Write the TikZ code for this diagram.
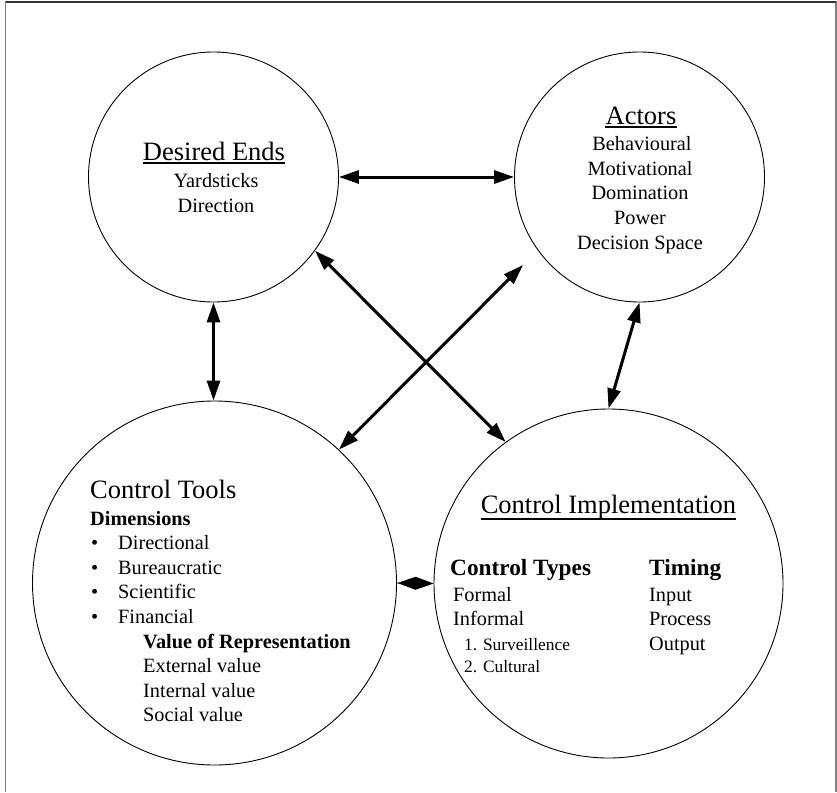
\documentclass[tikz,border=0pt]{standalone}
\usepackage{fontspec}
\setmainfont{Liberation Serif}
\usetikzlibrary{arrows.meta}
\begin{document}
\begin{tikzpicture}[x=1pt,y=-1pt,
  circ/.style={circle, draw, line width=0.9pt, minimum size=#1, inner sep=0pt},
  ttl/.style={anchor=base, inner sep=0pt, font=\fontsize{26.5}{30}\selectfont},
  ttll/.style={ttl, anchor=base west},
  bodyc/.style={anchor=base, inner sep=0pt, font=\fontsize{20.3}{24}\selectfont},
  bodyl/.style={bodyc, anchor=base west},
  bhead/.style={anchor=base west, inner sep=0pt, font=\bfseries\fontsize{20.3}{24}\selectfont},
  bigbold/.style={anchor=base west, inner sep=0pt, font=\bfseries\fontsize{23.3}{27}\selectfont},
  small/.style={anchor=base west, inner sep=0pt, font=\fontsize{17.4}{20}\selectfont},
  uline/.style={line width=1.6pt},
  arr/.style={line width=3pt, {Triangle[length=20pt,width=13pt]}-{Triangle[length=20pt,width=13pt]}},
  diam/.style={line width=0.8pt, -{Diamond[length=36pt,width=13pt]}},
  frame/.style={line width=1.6pt, black!50}
]
\useasboundingbox (0,0) rectangle (837,792);
% frame
\draw[frame] (5.5,792) -- (5.5,2) -- (836,2) -- (836,792);
\draw[line width=1.2pt, black!80] (5.5,2) -- (836,2);

% circles
\node[circ=250pt] (de) at (213.5,177) {};
\node[circ=250pt] (ac) at (639.5,177) {};
\node[circ=364pt] (ct) at (214.5,583) {};
\node[circ=349pt] (ci) at (608.5,583.5) {};

% Desired Ends text
\node[ttl] (deT) at (214,160) {Desired Ends};
\draw[uline] ([yshift=-3pt]deT.base west) -- ([yshift=-3pt]deT.base east);
\node[bodyc] (de1) at (216,187) {Yardsticks};
\node[bodyc] (de2) at (216,212) {Direction};

% Actors text
\node[ttl] (acT) at (641,124) {Actors};
\draw[uline] ([yshift=-3pt]acT.base west) -- ([yshift=-3pt]acT.base east);
\node[bodyc] (ac1) at (642,150) {Behavioural};
\node[bodyc] (ac2) at (640,175) {Motivational};
\node[bodyc] (ac3) at (640,199) {Domination};
\node[bodyc] (ac4) at (640,224) {Power};
\node[bodyc] (ac5) at (640,249) {Decision Space};

% Control Tools text
\node[ttll] (ctT) at (90,498) {Control Tools};
\node[bhead] (ctD) at (90,525) {Dimensions};
\node[bodyl] (b1) at (91,549) {•};
\node[bodyl] (b2) at (91,574) {•};
\node[bodyl] (b3) at (91,598) {•};
\node[bodyl] (b4) at (91,623) {•};
\node[bodyl] (ct1) at (118,549) {Directional};
\node[bodyl] (ct2) at (118,574) {Bureaucratic};
\node[bodyl] (ct3) at (118,598) {Scientific};
\node[bodyl] (ct4) at (118,623) {Financial};
\node[bhead] (ctV) at (143,648) {Value of Representation};
\node[bodyl] (ct5) at (143,672) {External value};
\node[bodyl] (ct6) at (143,697) {Internal value};
\node[bodyl] (ct7) at (143,721) {Social value};

% Control Implementation text
\node[ttl] (ciT) at (608.5,513) {Control Implementation};
\draw[uline] ([yshift=-6pt]ciT.base west) -- ([yshift=-6pt]ciT.base east);
\node[bigbold] (ciA) at (450,575) {Control Types};
\node[bigbold] (ciB) at (649,575) {Timing};
\node[bodyl] (ci1) at (453,601) {Formal};
\node[bodyl] (ci2) at (453,625) {Informal};
\node[small] (ci3) at (464,650) {1. Surveillence};
\node[small] (ci4) at (464,672) {2. Cultural};
\node[bodyl] (ci5) at (649,601) {Input};
\node[bodyl] (ci6) at (649,625) {Process};
\node[bodyl] (ci7) at (649,650) {Output};

% connectors
\coordinate (acx) at (523,265);
\draw[arr] (de.east) -- (ac.west);
\draw[arr] (de.south) -- (de.south |- ct.north);
\draw[arr] (de.-36) -- (ci.126);
\draw[arr] (acx) -- (ct.47.5);
\draw[arr] (ac.south) -- (ci.north);
\draw[diam] (ct.east) -- (ci.west);
\end{tikzpicture}
\end{document}
